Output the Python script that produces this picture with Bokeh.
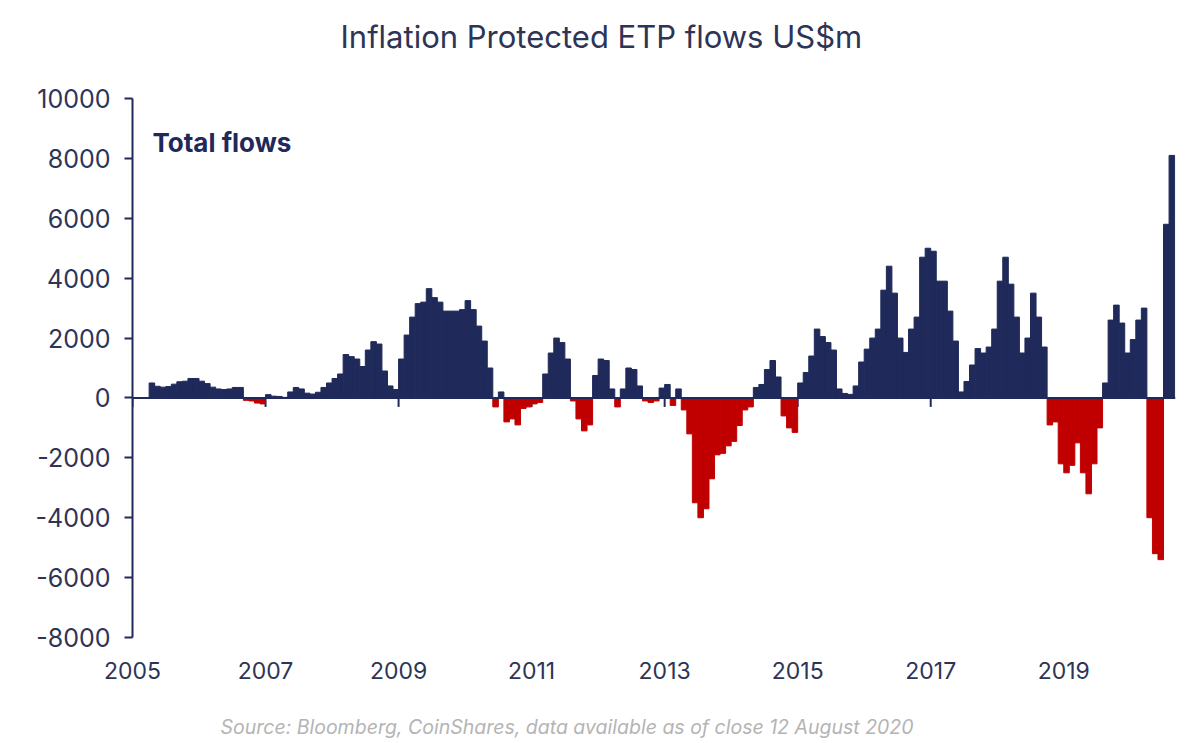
import numpy as np
from bokeh.plotting import figure
from bokeh.models import ColumnDataSource, FixedTicker, Span, Label, Title
from bokeh.embed import file_html
from bokeh.resources import INLINE

# Monthly total flows, US$m (Jan..Dec of each year)
flows_2005 = [0, 0, 0, 500, 390, 360, 380, 460, 540, 560, 650, 650]
flows_2006 = [560, 480, 360, 300, 280, 300, 350, 350, -80, -100, -170, -200]
flows_2007 = [110, 60, 50, 20, 200, 350, 300, 160, 130, 190, 350, 500]
flows_2008 = [650, 800, 1450, 1380, 1300, 1050, 1600, 1880, 1800, 900, 400, 280]
flows_2009 = [1300, 2100, 2700, 3150, 3200, 3650, 3350, 3200, 2900, 2900, 2900, 2950]
flows_2010 = [3250, 2950, 2400, 1900, 1000, -300, 200, -800, -700, -900, -350, -300]
flows_2011 = [-200, -150, 800, 1500, 2000, 1850, 1300, -100, -700, -1100, -900, 750]
flows_2012 = [1300, 1250, 300, -300, 300, 1000, 950, 400, -100, -150, -100, 330]
flows_2013 = [450, -250, 300, -400, -1200, -3500, -4000, -3700, -2700, -1900, -1850, -1600]
flows_2014 = [-1450, -920, -400, -300, 350, 450, 950, 1250, 700, -600, -1000, -1150]
flows_2015 = [500, 850, 1400, 2300, 2050, 1850, 1600, 300, 150, 120, 400, 1200]
flows_2016 = [1630, 2000, 2300, 3600, 4400, 3500, 2000, 1520, 2300, 2700, 4700, 5000]
flows_2017 = [4900, 3900, 3900, 2900, 1900, 200, 550, 1100, 1650, 1500, 1700, 2300]
flows_2018 = [3900, 4700, 3800, 2700, 1500, 2000, 3500, 2700, 1700, -900, -800, -2200]
flows_2019 = [-2500, -2250, -1500, -2500, -3200, -2200, -1000, 500, 2600, 3100, 2500, 1500]
flows_2020 = [1950, 2600, 3000, -4000, -5200, -5400, 5800, 8100]

years = list(range(2005, 2021))
x_ticks = [2005, 2007, 2009, 2011, 2013, 2015, 2017, 2019]
y_ticks = [-8000, -6000, -4000, -2000, 0, 2000, 4000, 6000, 8000, 10000]

NAVY = "#1f2a5a"
RED = "#c00000"
TEXT = "#2d3456"
FONT = "Inter"


def spacer(px):
    # blank white title used only to push the real title/source away from the frame
    return Title(text=" ", text_font_size="1px", text_color="white", standoff=px)


def create_plot():
    yearly = [flows_2005, flows_2006, flows_2007, flows_2008, flows_2009,
              flows_2010, flows_2011, flows_2012, flows_2013, flows_2014,
              flows_2015, flows_2016, flows_2017, flows_2018, flows_2019,
              flows_2020]
    xs, tops = [], []
    for yr, vals in zip(years, yearly):
        for i, v in enumerate(vals):
            xs.append(yr + (i + 0.5) / 12)
            tops.append(v)
    colors = [NAVY if v >= 0 else RED for v in tops]
    src = ColumnDataSource(dict(x=xs, top=tops, color=colors))

    p = figure(
        width=1192, height=740,
        x_range=(2005, 2020.68), y_range=(-8000, 10000),
        output_backend="svg", toolbar_location=None, tools="",
        min_border_left=132, min_border_right=17,
        min_border_top=98, min_border_bottom=96,
    )
    p.outline_line_color = None
    p.grid.visible = False

    # little year ticks hanging off the zero line
    p.segment(x0=x_ticks, y0=[0] * len(x_ticks), x1=x_ticks, y1=[-300] * len(x_ticks),
              line_color=NAVY, line_width=2)

    p.vbar(x="x", top="top", bottom=0, width=1 / 12, fill_color="color",
           line_color="color", line_width=1, source=src)

    p.add_layout(Span(location=0, dimension="width", line_color=NAVY, line_width=2))

    # y axis
    p.yaxis.ticker = FixedTicker(ticks=y_ticks)
    p.yaxis.major_label_overrides = {t: str(t) for t in y_ticks}
    p.yaxis.axis_line_color = NAVY
    p.yaxis.axis_line_width = 2
    p.yaxis.major_tick_line_color = NAVY
    p.yaxis.major_tick_line_width = 2
    p.yaxis.major_tick_out = 8
    p.yaxis.major_tick_in = 0
    p.yaxis.minor_tick_line_color = None
    p.yaxis.major_label_standoff = 14
    p.yaxis.major_label_text_font = FONT
    p.yaxis.major_label_text_font_size = "25px"
    p.yaxis.major_label_text_color = TEXT

    # x axis: labels only
    p.xaxis.ticker = FixedTicker(ticks=x_ticks)
    p.xaxis.axis_line_color = None
    p.xaxis.major_tick_line_color = None
    p.xaxis.minor_tick_line_color = None
    p.xaxis.major_tick_out = 0
    p.xaxis.major_label_standoff = 24
    p.xaxis.major_label_text_font = FONT
    p.xaxis.major_label_text_font_size = "23px"
    p.xaxis.major_label_text_color = TEXT

    # title above (spacer sits between frame and title)
    p.add_layout(spacer(36), "above")
    p.add_layout(Title(text="Inflation Protected ETP flows US$m", align="left", offset=208,
                       standoff=10, text_font=FONT, text_font_style="normal",
                       text_font_size="31px", text_color=TEXT), "above")

    # source line below the year labels
    p.add_layout(spacer(30), "below")
    p.add_layout(Title(text="Source: Bloomberg, CoinShares, data available as of close 12 August 2020",
                       align="left", offset=88, vertical_align="top", standoff=0,
                       text_font=FONT, text_font_style="italic",
                       text_font_size="19.5px", text_color="#b4b4b4"), "below")

    p.add_layout(Label(x=2005.3, y=8540, text="Total flows", text_font=FONT,
                       text_font_style="bold", text_font_size="26px",
                       text_color=NAVY, text_baseline="middle"))
    return p


p = create_plot()
open("out.html", "w").write(file_html(p, INLINE))
